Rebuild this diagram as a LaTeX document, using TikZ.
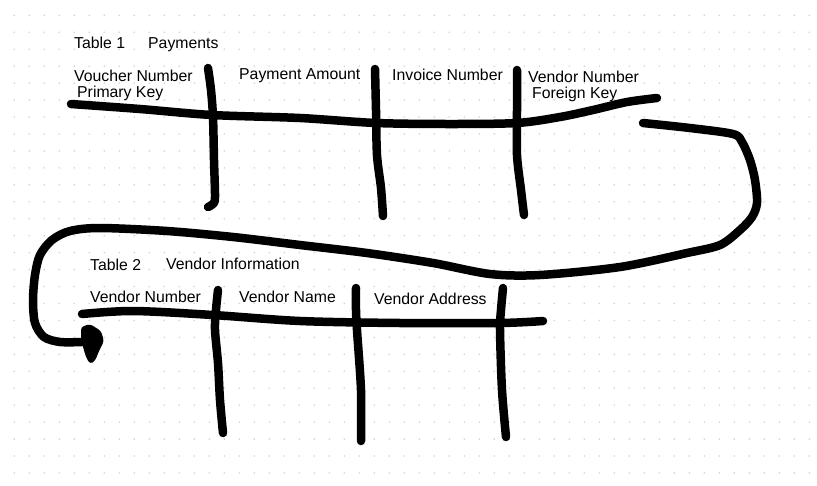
\documentclass[tikz,border=0pt]{standalone}
\usepackage{fontspec}
\setmainfont{Liberation Sans}
\begin{document}
\begin{tikzpicture}[x=1pt,y=-1pt,
  stroke/.style={line width=8.5pt,line cap=round,line join=round,black},
  lbl/.style={anchor=base west,inner sep=0pt,font=\fontsize{15.8}{18}\selectfont}]
\useasboundingbox (0,0) rectangle (817,485);
\fill[white] (0,0) rectangle (817,485);
% dot grid
\foreach \i in {0,...,53}{
  \foreach \j in {0,...,28}{
    \fill[black!17] ({14.3+15*\i},{15.3+16.95*\j}) circle (0.9pt);
  }
}
% Table 1 texts
\node[lbl] (t1) at (74,48) {Table 1};
\node[lbl] (pay) at (148,48) {Payments};
\node[lbl] (vn1) at (74,81) {Voucher Number};
\node[lbl] (pk) at (77,97) {Primary Key};
\node[lbl] (pa) at (239,79) {Payment Amount};
\node[lbl] (inv) at (392,80) {Invoice Number};
\node[lbl] (vn2) at (528,82) {Vendor Number};
\node[lbl] (fk) at (532,98) {Foreign Key};
% Table 2 texts
\node[lbl] (t2) at (90,270) {Table 2};
\node[lbl] (vi) at (166,269) {Vendor Information};
\node[lbl] (vn3) at (90,302) {Vendor Number};
\node[lbl] (vname) at (239,302) {Vendor Name};
\node[lbl] (vaddr) at (374,304) {Vendor Address};
% Table 1 strokes
\draw[stroke] plot[smooth,tension=0.5] coordinates {(71,104) (140,109) (212,115) (300,118) (376,123) (450,124) (517,123) (560,117) (593,110) (627,102) (657,98)};
\draw[stroke] plot[smooth,tension=0.5] coordinates {(208,68) (211,90) (213,117) (214,160) (215,197) (213,204) (208,207)};
\draw[stroke] plot[smooth,tension=0.5] coordinates {(375,69) (376,110) (377,155) (381,188) (383,216)};
\draw[stroke] plot[smooth,tension=0.5] coordinates {(517,70) (517,110) (517,155) (521,190) (524,215)};
% Table 2 strokes
\draw[stroke] plot[smooth,tension=0.5] coordinates {(82,314) (133,311) (213,315) (300,321) (400,323) (500,323) (543,321)};
\draw[stroke] plot[smooth,tension=0.5] coordinates {(218,290) (216,310) (215,330) (218,363) (220,400) (223,433)};
\draw[stroke] plot[smooth,tension=0.5] coordinates {(356,288) (356,310) (357,330) (361,390) (361,441)};
\draw[stroke] plot[smooth,tension=0.5] coordinates {(503,288) (501,310) (500,330) (502,390) (506,437)};
% connector
\coordinate (cs) at (643,123);
\coordinate (ce) at (82,342);
\draw[stroke] plot[smooth,tension=0.5] coordinates {(cs) (690,128) (733,134) (742,142) (750,160) (755,180) (757,203) (752,217) (740,230) (720,245) (687,253) (620,267) (540,275) (490,274) (433,263) (367,253) (300,245) (233,237) (167,231) (100,228) (70,231) (52,240) (40,255) (35,275) (33,300) (35,323) (44,337) (60,342) (ce)};
\fill[black,rounded corners=3pt] (81,327) -- (90,324) -- (101,331) -- (104,341) -- (99,351) -- (95,361) -- (90,364) -- (86,357) -- (83,347) -- (81,337) -- cycle;
\end{tikzpicture}
\end{document}
